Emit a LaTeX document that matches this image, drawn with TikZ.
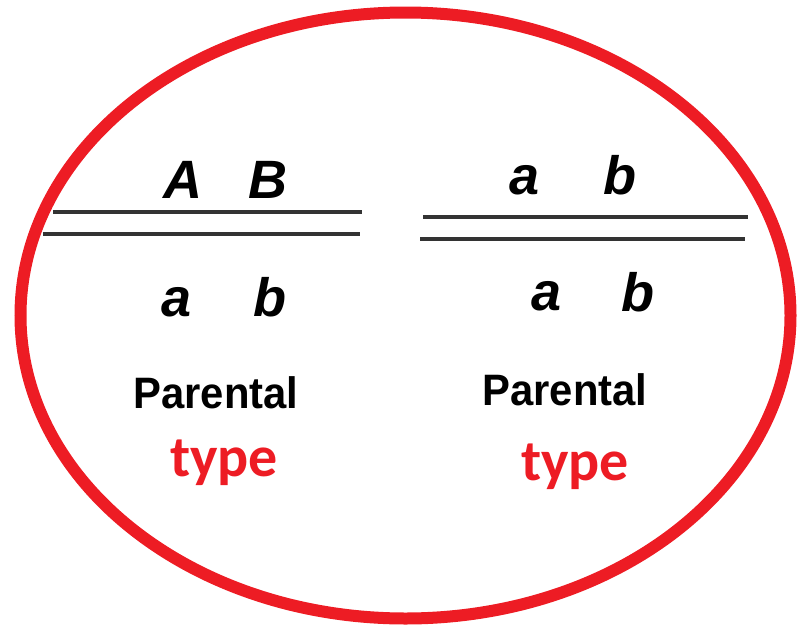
\documentclass[tikz,border=0pt]{standalone}
\usepackage{fontspec}
\setmainfont{Liberation Sans}
\newfontfamily\letterfont{Liberation Sans}
\newfontfamily\typefont{Carlito}
\definecolor{ringred}{HTML}{ED1C24}
\definecolor{linegray}{HTML}{333333}
\tikzset{
  allele/.style={anchor=base, inner sep=0pt, font=\letterfont\bfseries\itshape\fontsize{54}{54}\selectfont},
  ptext/.style={anchor=base, inner sep=0pt, xscale=0.95, font=\bfseries\fontsize{44}{44}\selectfont},
  ttext/.style={anchor=base, inner sep=0pt, text=ringred, font=\typefont\bfseries\fontsize{58}{58}\selectfont},
  chrom/.style={draw=linegray, line width=4pt}
}
\begin{document}
\begin{tikzpicture}[x=1pt,y=-1pt]
\useasboundingbox (0,0) rectangle (798,627);
\draw[ringred, line width=12pt] (405.5,315.5) ellipse [x radius=385, y radius=303];
% left chromosome pair
\draw[chrom] (53,212) -- (362,212);
\draw[chrom] (43,234) -- (360,234);
% right chromosome pair
\draw[chrom] (423,217) -- (748,217);
\draw[chrom] (420,239) -- (745,239);
\node[allele] (A1) at (183,198) {A};
\node[allele] (B1) at (268,198) {B};
\node[allele] (a1) at (177,316) {a};
\node[allele] (b1) at (270,316) {b};
\node[allele] (a2) at (525,194) {a};
\node[allele] (b2) at (620,194) {b};
\node[allele] (a3) at (547,310) {a};
\node[allele] (b3) at (638,311) {b};
\node[ptext] (p1) at (216,408) {Parental};
\node[ptext] (p2) at (565,405) {Parental};
\node[ttext] (t1) at (224,476) {type};
\node[ttext] (t2) at (575,480) {type};
\end{tikzpicture}
\end{document}
